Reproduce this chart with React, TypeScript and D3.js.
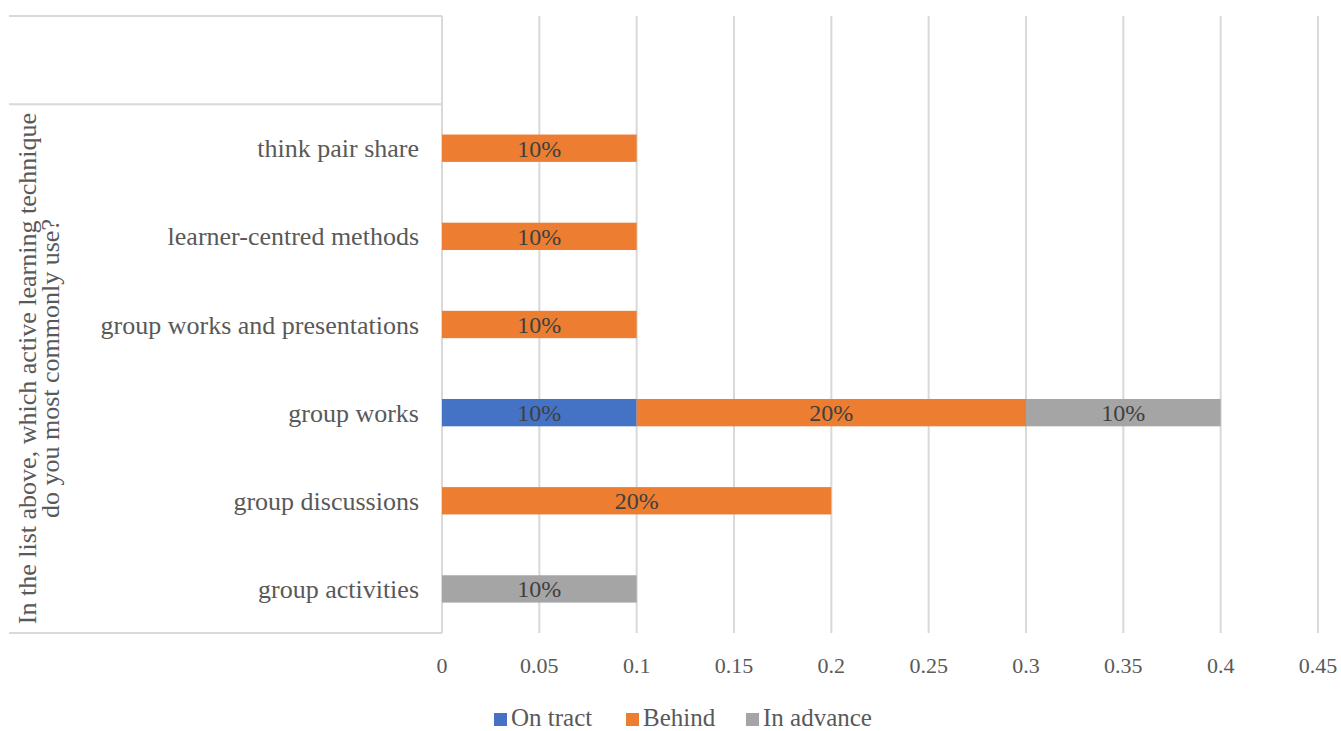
import React from "react";
import * as d3 from "d3";

const categories = ["", "think pair share", "learner-centred methods", "group works and presentations", "group works", "group discussions", "group activities"];
const onTract = [0, 0, 0, 0, 0.1, 0, 0];
const behind = [0, 0.1, 0.1, 0.1, 0.2, 0.2, 0];
const inAdvance = [0, 0, 0, 0, 0.1, 0, 0.1];
const seriesNames = ["On tract", "Behind", "In advance"];
const seriesColors = ["#4472C4", "#ED7D31", "#A5A5A5"];
const xTicks = [0, 0.05, 0.1, 0.15, 0.2, 0.25, 0.3, 0.35, 0.4, 0.45];
const axisTitleLines = ["In the list above, which active learning technique", "do you most commonly use?"];

const W = 1341, H = 731;
const F = { fontFamily: "Liberation Serif" };

export default function App() {
  const left = 442, right = 1318, top = 16, bottom = 633;
  const x = d3.scaleLinear().domain([0, 0.45]).range([left, right]);
  const y = d3.scaleBand().domain(categories.map((c, i) => String(i))).range([top, bottom]).paddingInner(0.69).paddingOuter(0.345);
  const band = d3.scaleBand().domain(categories.map((c, i) => String(i))).range([top, bottom]);
  const series = [onTract, behind, inAdvance];
  const segs: any[] = [];
  categories.forEach((c, i) => {
    let acc = 0;
    series.forEach((s, k) => {
      const v = s[i];
      if (v > 0) segs.push({ i, k, x0: acc, x1: acc + v, v });
      acc += v;
    });
  });
  const labelX = 419;
  const titleCy = (band("1")! + bottom) / 2;
  const legendItems = [
    { x: 494, tx: 511, name: seriesNames[0], color: seriesColors[0] },
    { x: 626, tx: 643, name: seriesNames[1], color: seriesColors[1] },
    { x: 746, tx: 763, name: seriesNames[2], color: seriesColors[2] },
  ];
  return (
    <svg width={W} height={H} style={{ position: "absolute", left: 0, top: 0 }}>
      <rect width={W} height={H} fill="#fff" />
      {xTicks.map((t) => (
        <line key={"g" + t} x1={x(t)} x2={x(t)} y1={top} y2={bottom} stroke="#D9D9D9" strokeWidth={2} />
      ))}
      <line x1={9} x2={left} y1={top} y2={top} stroke="#D9D9D9" strokeWidth={2} />
      <line x1={9} x2={left} y1={band("1")!} y2={band("1")!} stroke="#D9D9D9" strokeWidth={2} />
      <line x1={9} x2={left} y1={bottom} y2={bottom} stroke="#D9D9D9" strokeWidth={2} />
      {segs.map((s, j) => (
        <g key={j}>
          <rect x={x(s.x0)} y={y(String(s.i))!} width={x(s.x1) - x(s.x0)} height={y.bandwidth()} fill={seriesColors[s.k]} />
          <text style={F} x={(x(s.x0) + x(s.x1)) / 2} y={y(String(s.i))! + y.bandwidth() / 2} dy="0.35em" textAnchor="middle" fontSize={24} fill="#404040">
            {Math.round(s.v * 100) + "%"}
          </text>
        </g>
      ))}
      {categories.map((c, i) => (
        <text style={F} key={"c" + i} x={labelX} y={band(String(i))! + band.bandwidth() / 2} dy="0.35em" textAnchor="end" fontSize={26} fill="#595959">
          {c}
        </text>
      ))}
      <g transform={`translate(38, ${titleCy}) rotate(-90)`}>
        {axisTitleLines.map((l, i) => (
          <text style={F} key={i} x={0} y={(i - 0.5) * 23} dy="0.35em" textAnchor="middle" fontSize={26} fill="#595959">
            {l}
          </text>
        ))}
      </g>
      {xTicks.map((t) => (
        <text style={F} key={"t" + t} x={x(t)} y={665} dy="0.35em" textAnchor="middle" fontSize={22} fill="#595959">
          {String(t)}
        </text>
      ))}
      {legendItems.map((it) => (
        <g key={it.name}>
          <rect x={it.x} y={713} width={13} height={13} fill={it.color} />
          <text style={F} x={it.tx} y={726} fontSize={25} fill="#595959">{it.name}</text>
        </g>
      ))}
    </svg>
  );
}
